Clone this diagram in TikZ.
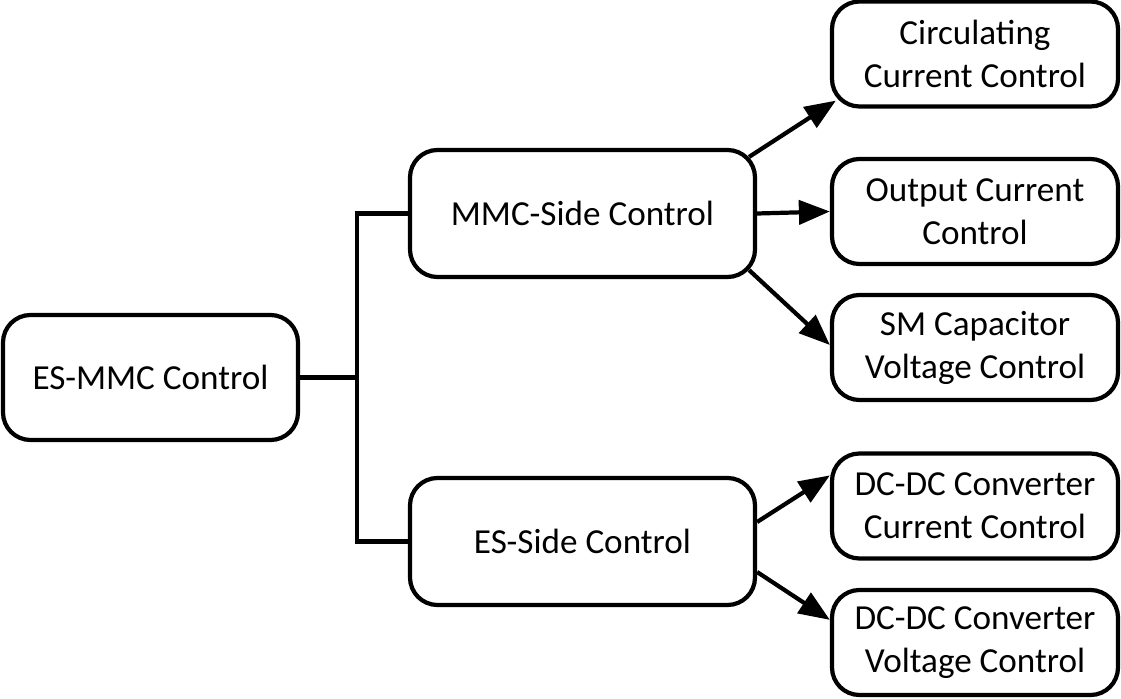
\documentclass[tikz,border=0pt]{standalone}
\usepackage{fontspec}
\setmainfont{Carlito}
\usetikzlibrary{arrows.meta}

\begin{document}
\begin{tikzpicture}[
    >={Triangle[length=0.62cm,width=0.48cm]},
    box/.style={draw, line width=2.4pt, rounded corners=0.55cm, align=center,
        inner sep=0pt, font=\fontsize{20}{24.5}\selectfont},
    leftbox/.style={box, minimum width=5.9cm, minimum height=2.5cm},
    midbox/.style={box, minimum width=6.9cm, minimum height=2.54cm},
    rightbox/.style={box, minimum width=5.72cm, minimum height=2.1cm},
    link/.style={line width=2.4pt}
]
    \useasboundingbox (0,0) rectangle (22.42,13.96);
    % boxes
    \node[leftbox] (esmmc) at (3.01,6.41) {ES-MMC Control};
    \node[midbox] (mmcside) at (11.65,9.69) {MMC-Side Control};
    \node[midbox] (esside) at (11.65,3.13) {ES-Side Control};
    \node[rightbox] (circ) at (19.5,12.88) {Circulating\\Current Control};
    \node[rightbox] (output) at (19.5,9.73) {Output Current\\Control};
    \node[rightbox] (smcap) at (19.5,7.01) {SM Capacitor\\Voltage Control};
    \node[rightbox] (dccur) at (19.5,3.84) {DC-DC Converter\\Current Control};
    \node[rightbox] (dcvolt) at (19.5,1.11) {DC-DC Converter\\Voltage Control};
    % tree lines
    \coordinate (bus) at (7.14,6.41);
    \draw[link] (esmmc.east) -- (bus);
    \draw[link] (mmcside.west) -| (bus) |- (esside.west);
    % arrows
    \draw[link,->] ([xshift=-0.16cm,yshift=-0.18cm]mmcside.north east) -- ([xshift=0.12cm,yshift=0.16cm]circ.south west);
    \draw[link,->] (mmcside.east) -- (output.west);
    \draw[link,->] ([xshift=-0.16cm,yshift=0.18cm]mmcside.south east) -- ([yshift=0.05cm]smcap.west);
    \draw[link,->] ([yshift=0.39cm]esside.east) -- ([yshift=-0.48cm]dccur.north west);
    \draw[link,->] ([yshift=-0.61cm]esside.east) -- ([yshift=-0.64cm]dcvolt.north west);
\end{tikzpicture}
\end{document}
